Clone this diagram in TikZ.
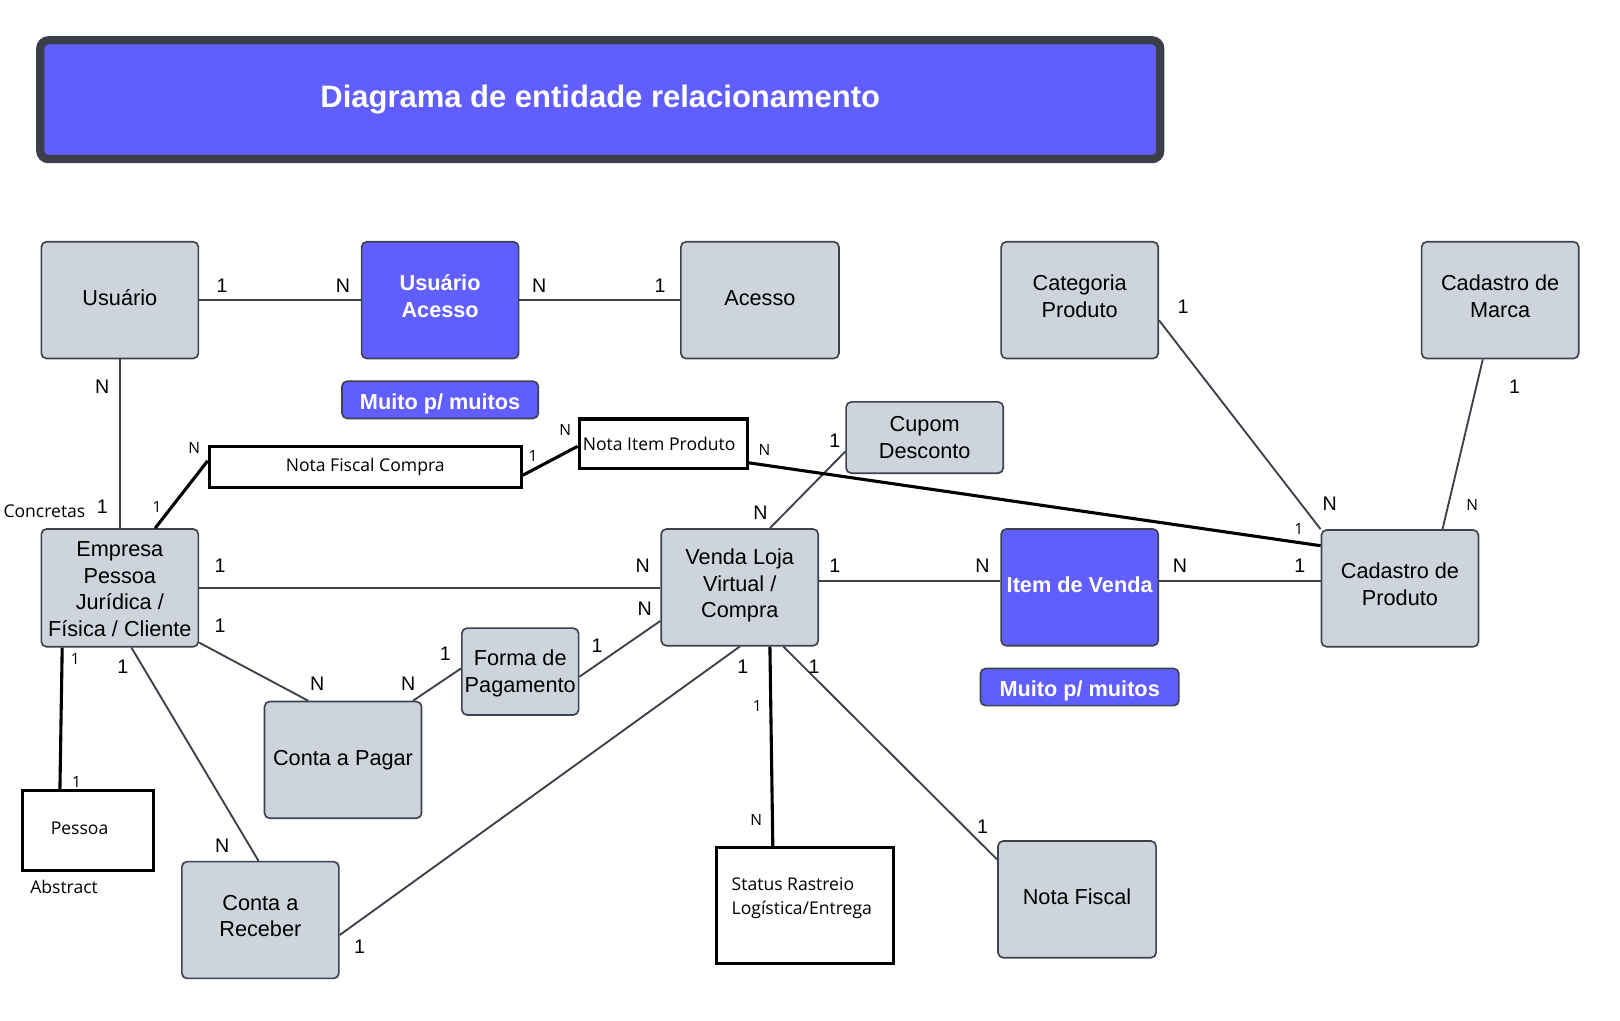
\documentclass[tikz,border=0pt]{standalone}
\usepackage{fontspec}
\setmainfont{Liberation Sans}
\newfontfamily\osans{Open Sans}
\definecolor{bluec}{HTML}{615EFF}
\definecolor{entc}{HTML}{CED4DC}
\definecolor{edgec}{HTML}{3E424A}
\definecolor{linec}{HTML}{3C4049}
\definecolor{titleb}{HTML}{3B3F47}
\newcommand{\tallstrut}[1]{\rule{0pt}{#1}}
\tikzset{
  ent/.style={rectangle, rounded corners=5pt, draw=edgec, fill=entc, line width=1.6pt,
    align=center, text=black, inner sep=2pt, font=\fontsize{21}{25.7}\selectfont,
    execute at begin node=\strut, execute at end node=\strut},
  bent/.style={ent, fill=bluec, text=white, font=\fontsize{21}{25.7}\selectfont\bfseries},
  tag/.style={rectangle, rounded corners=5pt, draw=edgec, fill=bluec, line width=1.6pt,
    text=white, inner sep=2pt, text height=19pt, text depth=0pt,
    font=\fontsize{21}{25}\selectfont\bfseries},
  wbox/.style={rectangle, draw=black, fill=white, line width=3pt, inner sep=2pt,
    font=\osans\fontsize{17}{22}\selectfont},
  stext/.style={inner sep=0pt, align=left, font=\osans\fontsize{17}{23}\selectfont},
  card/.style={inner sep=0pt, font=\fontsize{19}{19}\selectfont},
  scard/.style={inner sep=0pt, font=\osans\fontsize{15}{15}\selectfont},
  rel/.style={draw=linec, line width=1.8pt},
  trel/.style={draw=black, line width=3pt},
}
\begin{document}
\begin{tikzpicture}[x=1pt,y=-1pt]
\useasboundingbox[fill=white] (0,0) rectangle (1568,987.3);

% title
\node[rectangle, rounded corners=8pt, draw=titleb, line width=8pt, fill=bluec,
  minimum width=1084, minimum height=115, text=white,
  font=\fontsize{30}{30}\selectfont\bfseries] (title) at (581,96.5) {Diagrama de entidade relacionamento};

% entities
\node[ent, minimum width=152, minimum height=113] (usuario) at (116,290.5) {Usuário};
\node[bent, minimum width=152, minimum height=113] (uacesso) at (426,290.5) {Usuário\\Acesso};
\node[ent, minimum width=153, minimum height=113] (acesso) at (735.5,290.5) {Acesso};
\node[ent, minimum width=152, minimum height=113] (categoria) at (1045,290.5) {Categoria\\Produto};
\node[ent, minimum width=152, minimum height=113] (marca) at (1452,290.5) {Cadastro de\\Marca};
\node[tag, minimum width=190, minimum height=36] (muito1) at (426,387) {Muito p/ muitos};

\node[wbox, minimum width=163, minimum height=48] (notaitem) at (642,429.5) {\hspace*{-4pt}Nota Item Produto\hspace*{4pt}};
\node[wbox, minimum width=302, minimum height=39] (nfcompra) at (353.5,452) {Nota Fiscal Compra};
\node[ent, minimum width=152, minimum height=69] (cupom) at (895,423.5) {\tallstrut{22pt}Cupom\\Desconto};

\node[ent, minimum width=152, minimum height=114] (empresa) at (116,569) {\tallstrut{24pt}Empresa\\Pessoa\\Jurídica /\\Física / Cliente};
\node[ent, minimum width=152, minimum height=113] (venda) at (716,568.5) {Venda Loja\\Virtual /\\Compra};
\node[bent, minimum width=152, minimum height=113] (itemvenda) at (1045,568.5) {Item de Venda};
\node[ent, minimum width=152, minimum height=113] (cadprod) at (1355,569.5) {Cadastro de\\Produto};
\node[tag, minimum width=192, minimum height=36] (muito2) at (1045,665) {Muito p/ muitos};

\node[ent, minimum width=113, minimum height=84] (forma) at (503.5,650) {\tallstrut{22pt}Forma de\\Pagamento};
\node[ent, minimum width=152, minimum height=113] (contapagar) at (332,735.5) {Conta a Pagar};
\node[wbox, minimum width=127, minimum height=77] (pessoa) at (85,804) {};
\node[stext] (pessoatxt) at (77,802) {Pessoa};
\node[stext] (abstract) at (62,858) {Abstract};
\node[stext] (concretas) at (43,495) {Concretas};
\node[ent, minimum width=152, minimum height=113] (contareceber) at (252,890.5) {Conta a\\Receber};
\node[wbox, minimum width=171, minimum height=112] (status) at (779,876.5) {};
\node[stext, anchor=north west] (statustxt) at ([xshift=16,yshift=-30]status.north west) {Status Rastreio\\Logística/Entrega};
\node[ent, minimum width=153, minimum height=113] (notafiscal) at (1042.5,870.5) {Nota Fiscal};

% connectors (thin)
\draw[rel] (usuario.east) -- (uacesso.west);
\draw[rel] (uacesso.east) -- (acesso.west);
\draw[rel] (usuario.south) -- (empresa.north);
\draw[rel] ([yshift=-13.5]cupom.west) -- ([xshift=106]venda.north west);
\draw[rel] ([yshift=-19.5]categoria.east) -- (cadprod.north west);
\draw[rel] ([xshift=60]marca.south west) -- ([xshift=118]cadprod.north west);
\draw[rel] (empresa.east) -- (empresa.east -| venda.west);
\draw[rel] ([yshift=6.5]venda.east) -- ([yshift=6.5]venda.east -| itemvenda.west);
\draw[rel] ([yshift=6.5]itemvenda.east) -- ([yshift=6.5]itemvenda.east -| cadprod.west);
\draw[rel] ([yshift=-53]empresa.east) -- ([xshift=43]contapagar.north west);
\draw[rel] ([xshift=-9]contapagar.north east) -- ([yshift=3]forma.west);
\draw[rel] ([yshift=-5]forma.east) -- ([yshift=-32.5]venda.west);
\draw[rel] ([xshift=88]empresa.south west) -- ([xshift=75]contareceber.north west);
\draw[rel] (venda.south) -- ([yshift=-14.5]contareceber.east);
\draw[rel] ([xshift=119]venda.south west) -- ([yshift=38.5]notafiscal.west);

% connectors (thick)
\draw[trel] ([xshift=111]empresa.north west) -- ([yshift=6]nfcompra.west);
\draw[trel] ([yshift=-8]nfcompra.east) -- ([yshift=-2.5]notaitem.west);
\draw[trel] ([yshift=-18.5]notaitem.east) -- ([yshift=-16]cadprod.north west);
\draw[trel] ([xshift=21]empresa.south west) -- ([xshift=38]pessoa.north west);
\draw[trel] ([xshift=106]venda.south west) -- ([xshift=56]status.north west);

% cardinalities
\node[card] (c1) at (215,277) {1};
\node[card] (c2) at (332,277) {N};
\node[card] (c3) at (522,277) {N};
\node[card] (c4) at (639,277) {1};
\node[card] (c5) at (99,374) {N};
\node[card] (c6) at (99,490) {1};
\node[card] (c7) at (808,427) {1};
\node[card] (c8) at (736,496) {N};
\node[card] (c9) at (1145,297) {1};
\node[card] (c10) at (1287,488) {N};
\node[card] (c11) at (1466,374) {1};
\node[card] (c12) at (213,548) {1};
\node[card] (c13) at (622,548) {N};
\node[card] (c14) at (808,548) {1};
\node[card] (c15) at (951,548) {N};
\node[card] (c16) at (1142,548) {N};
\node[card] (c17) at (1258,548) {1};
\node[card] (c18) at (213,606) {1};
\node[card] (c19) at (307,662) {N};
\node[card] (c20) at (395,662) {N};
\node[card] (c21) at (431,633) {1};
\node[card] (c22) at (578,625) {1};
\node[card] (c23) at (624,589) {N};
\node[card] (c24) at (119,645) {1};
\node[card] (c25) at (215,819) {N};
\node[card] (c26) at (719,645) {1};
\node[card] (c27) at (348,916) {1};
\node[card] (c28) at (788,645) {1};
\node[card] (c29) at (951,800) {1};

\node[scard] (s1) at (152,491) {1};
\node[scard] (s2) at (188,434) {N};
\node[scard] (s3) at (516,441) {1};
\node[scard] (s4) at (547,416) {N};
\node[scard] (s5) at (740,436) {N};
\node[scard] (s6) at (1257,512) {1};
\node[scard] (s7) at (1425,489) {N};
\node[scard] (s8) at (73,638) {1};
\node[scard] (s9) at (74,757) {1};
\node[scard] (s10) at (733,683) {1};
\node[scard] (s11) at (732,794) {N};
\end{tikzpicture}
\end{document}
